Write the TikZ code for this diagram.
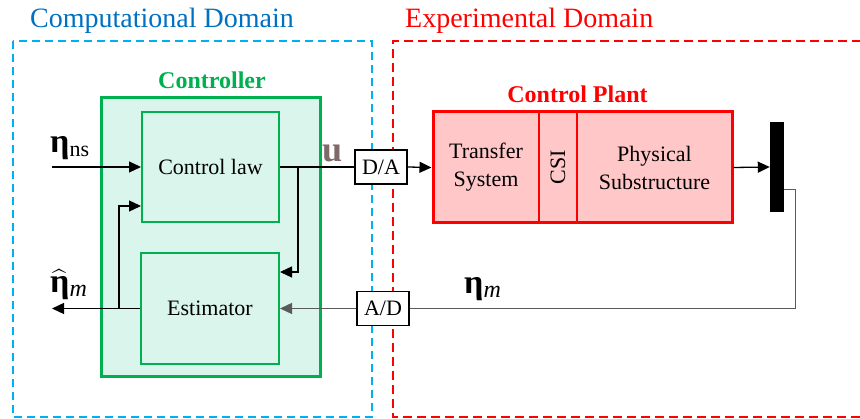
\RequirePackage{fix-cm}
\documentclass[tikz,border=0pt]{standalone}
\usepackage{amsmath}
\usepackage{fontspec}
\setmainfont{Liberation Serif}
\usetikzlibrary{arrows.meta}
\definecolor{cgreen}{RGB}{0,176,80}
\definecolor{cfill}{RGB}{218,245,236}
\definecolor{pfill}{RGB}{255,199,199}
\definecolor{cblue}{RGB}{0,176,240}
\definecolor{tblue}{RGB}{0,112,192}
\definecolor{cred}{RGB}{255,0,0}
\definecolor{ubrown}{RGB}{128,105,105}
\definecolor{fbgray}{RGB}{90,90,90}
\newcommand{\fsz}[1]{\fontsize{#1}{#1}\selectfont}
\begin{document}
\begin{tikzpicture}[x=1pt,y=-1pt,
  inbox/.style={draw=cgreen, line width=2pt, fill=cfill, minimum width=137pt, minimum height=110pt, inner sep=0pt, font=\fsz{22}},
  conv/.style={draw=black, line width=1.2pt, fill=white, minimum width=52pt, minimum height=34pt, inner sep=0pt, font=\fsz{22}},
  ptext/.style={align=center, inner sep=0pt, font=\fontsize{22}{28}\selectfont},
  wire/.style={line width=1.3pt},
  arr/.style={wire, -{Triangle[length=12pt,width=11pt]}},
  lbl/.style={anchor=base west, inner sep=0pt}]
\useasboundingbox (0,0) rectangle (860,419);
% domains
\draw[cblue, line width=2pt, dash pattern=on 8pt off 5pt] (13,41) rectangle (372,417);
\draw[cred, line width=2pt, dash pattern=on 9pt off 5pt] (875,41) -- (393,41) -- (393,417) -- (875,417);
\node[lbl, text=tblue, font=\fsz{28}] (tcomp) at (30,28) {Computational Domain};
\node[lbl, text=cred, font=\fsz{28}] (texp) at (405,28) {Experimental Domain};
% controller
\node[draw=cgreen, line width=3pt, fill=cfill, minimum width=219pt, minimum height=279pt, inner sep=0pt] (ctrl) at (210.5,237.5) {};
\node[anchor=base, inner sep=0pt, text=cgreen, font=\bfseries\fsz{24}] (tctrl) at (212,89) {Controller};
\node[inbox] (cl) at (210.5,167) {Control law};
\node[inbox, minimum width=138pt, minimum height=111pt] (est) at (210,308.5) {Estimator};
% converters
\node[conv] (da) at (381,167) {D/A};
\node[conv] (ad) at (383,308.5) {A/D};
% plant
\node[draw=cred, line width=3pt, fill=pfill, minimum width=299pt, minimum height=111pt, inner sep=0pt] (plant) at (582.5,167.5) {};
\draw[cred, line width=2pt] (539,113) -- (539,222);
\draw[cred, line width=2pt] (577,113) -- (577,222);
\node[ptext] (ts) at (486,167.5) {Transfer\\System};
\node[ptext, rotate=90] (csi) at (558,167.5) {CSI};
\node[ptext] (ps) at (654.5,167.5) {Physical\\Substructure};
\node[anchor=base, inner sep=0pt, text=cred, font=\bfseries\fsz{24}] (tplant) at (577.5,103) {Control Plant};
\node[fill=black, minimum width=14pt, minimum height=90pt, inner sep=0pt] (bar) at (777,167) {};
% connectors
\coordinate (nsin) at (52,167);
\coordinate (etaout) at (52,308.5);
\coordinate (jn) at (119,308.5);
\coordinate (br) at (298,167);
\draw[arr] (nsin) -- (cl.west);
\draw[wire] (cl.east) -- (da.west);
\draw[arr] (br) |- ([yshift=-20pt]est.north east);
\draw[arr] (da.east) -- (plant.west);
\draw[arr] (plant.east) -- (bar.west);
\draw[wire, fbgray] ([yshift=-68pt]bar.north east) -- ++(11,0) |- (ad.east);
\draw[arr, fbgray] (ad.west) -- (est.east);
\draw[arr] (est.west) -- (etaout);
\draw[arr] (jn) |- ([yshift=-39pt]cl.west);
% labels
\node[lbl] (lns) at (50,153) {{\bfseries\fsz{34}η}\raisebox{-4pt}{\fsz{22}ns}};
\node[lbl] (lm) at (464,294) {{\bfseries\fsz{34}η}\raisebox{-4pt}{\fsz{24}\itshape m}};
\node[lbl] (lhat) at (50,293) {{\fsz{34}$\widehat{\text{\bfseries η}}$}\raisebox{-4pt}{\fsz{24}\itshape m}};
\node[lbl, text=ubrown, font=\bfseries\fsz{36}] (lu) at (322,162) {u};
\end{tikzpicture}
\end{document}
